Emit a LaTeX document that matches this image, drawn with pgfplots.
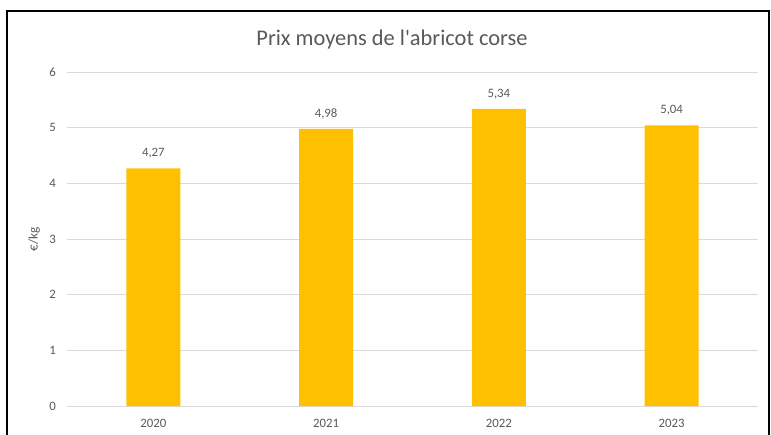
\documentclass[border=0pt]{standalone}
\usepackage{pgfplots}
\pgfplotsset{compat=1.18}
\usepackage{fontspec}
\setmainfont{Carlito}[Ligatures=TeXOff]
\definecolor{barc}{HTML}{FFC000}
\definecolor{txt}{HTML}{595959}
\definecolor{grd}{HTML}{D9D9D9}
\begin{document}
\begin{tikzpicture}[x=0.5pt,y=0.5pt]
\useasboundingbox (0,0) rectangle (771,434);
\draw[black, line width=0.6pt] (7,-10) -- (7,423) -- (769,423) -- (769,-10);
\node[txt, font=\fontsize{11.2}{13}\selectfont] at (392,394) {Prix moyens de l'abricot corse};
\begin{axis}[
  at={(33.5pt,14pt)}, anchor=south west,
  scale only axis, width=345.5pt, height=167pt,
  xmin=-0.5, xmax=3.5, ymin=0, ymax=6,
  ytick={0,1,2,3,4,5,6},
  xtick={0,1,2,3}, xticklabels={2020,2021,2022,2023},
  axis line style={draw=none},
  ymajorgrids, grid style={grd, line width=0.5pt},
  major tick style={draw=none},
  tick label style={txt, font=\fontsize{6.4}{7}\selectfont},
  /pgf/number format/assume math mode=true,
  yticklabel style={xshift=-2pt},
  xticklabel style={yshift=-3pt},
  ylabel={€/kg}, ylabel style={txt, font=\fontsize{6.6}{7}\selectfont, at={(axis description cs:0,0.5)}, anchor=south, yshift=10pt},
  clip=false,
]
\draw[grd, line width=0.5pt] (axis cs:-0.5,0) -- (axis cs:3.5,0);
\addplot[ybar, bar width=27pt, fill=barc, draw=none,
  nodes near coords, nodes near coords style={txt, font=\fontsize{6.4}{7}\selectfont, yshift=1.5pt, /pgf/number format/.cd, use comma, fixed, fixed zerofill, precision=2}]
  coordinates {(0,4.27) (1,4.98) (2,5.34) (3,5.04)};
\end{axis}
\end{tikzpicture}
\end{document}
